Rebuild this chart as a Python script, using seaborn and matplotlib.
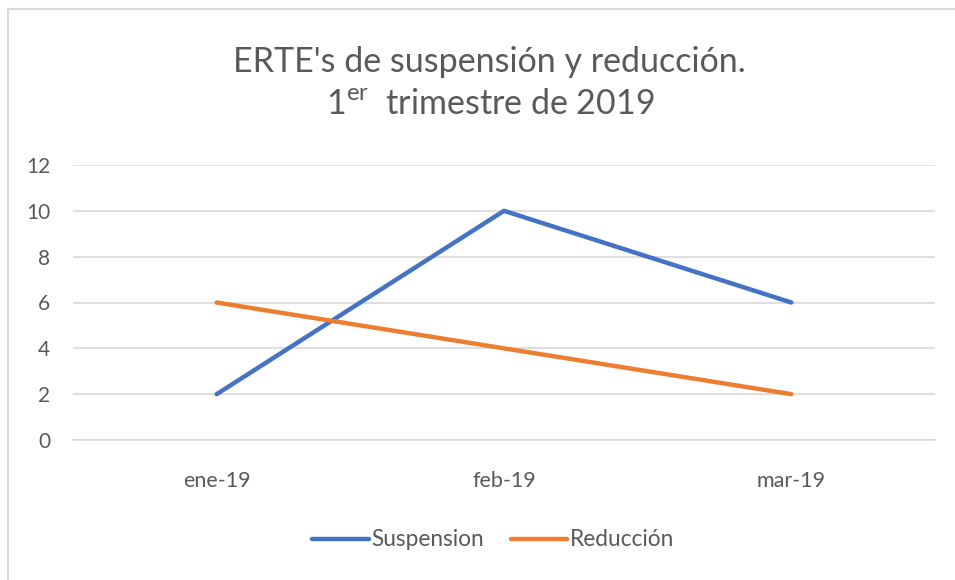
import matplotlib
matplotlib.use("Agg")
import matplotlib.pyplot as plt
import seaborn as sns
import pandas as pd
from matplotlib.patches import Rectangle

months = ["ene-19", "feb-19", "mar-19"]
suspension = [2, 10, 6]
reduccion = [6, 4, 2]
series_names = ["Suspension", "Reducción"]
yticks = [0, 2, 4, 6, 8, 10, 12]

df = pd.DataFrame({
    "mes": months * 2,
    "valor": suspension + reduccion,
    "serie": [series_names[0]] * 3 + [series_names[1]] * 3,
})

sns.set_theme(style="white")
plt.rcParams["font.family"] = ["Lato", "DejaVu Sans"]
plt.rcParams["mathtext.fontset"] = "custom"
plt.rcParams["mathtext.rm"] = "Lato"

txt = "#595959"
grid = "#D9D9D9"

fig = plt.figure(figsize=(9.55, 5.8), dpi=100)
ax = fig.add_axes([73 / 955, 1 - 440 / 580, (935 - 73) / 955, (440 - 165) / 580])

sns.lineplot(data=df, x="mes", y="valor", hue="serie", sort=False,
             palette=["#4472C4", "#ED7D31"], linewidth=3.2, ax=ax, legend=True)

ax.set_xlim(-0.5, 2.5)
ax.set_ylim(0, 12)
ax.set_yticks(yticks)
ax.set_yticklabels([str(v) for v in yticks])
ax.set_xlabel("")
ax.set_ylabel("")
ax.yaxis.grid(True, color=grid, linewidth=1.2)
ax.set_axisbelow(True)
for s in ["top", "right", "left"]:
    ax.spines[s].set_visible(False)
ax.spines["bottom"].set_color(grid)
ax.spines["bottom"].set_linewidth(1.2)
ax.tick_params(axis="y", length=0, pad=16.5, labelsize=15, colors=txt)
ax.tick_params(axis="x", which="major", length=0, pad=22, labelsize=15.5, colors=txt)
ax.set_xticks([-0.5, 0.5, 1.5, 2.5], minor=True)
ax.tick_params(axis="x", which="minor", length=6, width=1.2, color=grid, direction="out")

leg = ax.legend(loc="center", bbox_to_anchor=(493 / 955, (580 - 540) / 580), bbox_transform=fig.transFigure,
                ncol=2, frameon=False, fontsize=16.3, handlelength=2.5, handletextpad=0.1,
                columnspacing=1.2)
for t in leg.get_texts():
    t.set_color(txt)
for l in leg.get_lines():
    l.set_linewidth(3.2)

fig.text(489 / 955, 1 - 62 / 580, "ERTE's de suspensión y reducción.", ha="center", va="center",
         fontsize=24.5, color=txt)
fig.text(490 / 955, 1 - 104 / 580, r"1$^{\mathrm{er}}$  trimestre de 2019", ha="center", va="center",
         fontsize=24.5, color=txt)

fig.patches.append(Rectangle((8 / 955, -0.1), 1.2, 1 - 9 / 580 + 0.1, transform=fig.transFigure,
                             fill=False, edgecolor="#D9D9D9", linewidth=1.5))

fig.savefig("out.png", dpi=100, facecolor="white")
